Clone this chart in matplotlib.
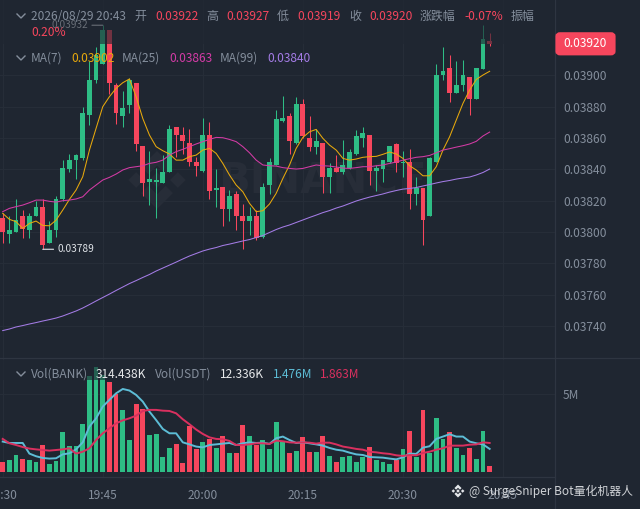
import matplotlib
matplotlib.use('Agg')
import matplotlib.pyplot as plt
import numpy as np
from matplotlib.patches import FancyBboxPatch, Polygon, Rectangle

plt.rcParams['font.family'] = ['Noto Sans CJK SC', 'DejaVu Sans']

# prices in units of 0.00001, one candle per minute from 19:30
opens = [3809, 3799, 3800, 3810, 3801, 3810, 3816, 3793, 3801, 3821, 3840, 3846, 3847, 3875, 3897,
         3907, 3929, 3894, 3874, 3881, 3895, 3855, 3832, 3832, 3831, 3838, 3867, 3862, 3857, 3845,
         3839, 3862, 3827, 3829, 3815, 3824, 3810, 3807, 3810, 3797, 3830, 3843, 3871, 3874, 3857,
         3882, 3860, 3854, 3857, 3835, 3841, 3838, 3841, 3850, 3860, 3862, 3839, 3840, 3845, 3856,
         3844, 3845, 3824, 3828, 3810, 3845, 3900, 3905, 3889, 3894, 3899, 3885, 3904, 3922]
highs = [3812, 3810, 3821, 3814, 3812, 3820, 3821, 3807, 3823, 3846, 3850, 3850, 3880, 3909, 3918,
         3932, 3929, 3895, 3890, 3898, 3895, 3855, 3852, 3841, 3849, 3868, 3867, 3867, 3866, 3848,
         3873, 3870, 3840, 3829, 3827, 3826, 3818, 3816, 3814, 3831, 3847, 3878, 3887, 3876, 3886,
         3885, 3874, 3866, 3857, 3844, 3849, 3859, 3853, 3865, 3867, 3862, 3843, 3846, 3855, 3857,
         3852, 3853, 3835, 3828, 3848, 3907, 3918, 3913, 3909, 3910, 3899, 3905, 3932, 3927]
lows = [3793, 3793, 3800, 3796, 3796, 3810, 3789, 3793, 3797, 3820, 3838, 3834, 3846, 3868, 3895,
        3907, 3888, 3869, 3867, 3876, 3852, 3823, 3817, 3809, 3831, 3838, 3848, 3850, 3842, 3836,
        3838, 3821, 3816, 3804, 3807, 3801, 3789, 3798, 3795, 3796, 3824, 3843, 3870, 3850, 3856,
        3860, 3852, 3850, 3825, 3825, 3838, 3837, 3840, 3849, 3854, 3830, 3826, 3832, 3844, 3838,
        3835, 3815, 3817, 3792, 3810, 3845, 3897, 3883, 3889, 3890, 3875, 3885, 3904, 3919]
closes = [3800, 3801, 3808, 3802, 3810, 3816, 3792, 3801, 3821, 3841, 3846, 3849, 3876, 3897, 3913,
          3929, 3895, 3876, 3879, 3897, 3856, 3831, 3834, 3833, 3838, 3866, 3862, 3858, 3845, 3842,
          3862, 3826, 3828, 3815, 3823, 3810, 3807, 3810, 3796, 3829, 3845, 3872, 3873, 3858, 3882,
          3861, 3854, 3858, 3835, 3841, 3838, 3843, 3851, 3861, 3863, 3839, 3841, 3846, 3855, 3844,
          3845, 3824, 3828, 3808, 3847, 3900, 3903, 3889, 3894, 3900, 3885, 3905, 3923, 3920]

ma7 = [3811.9, 3808.1, 3806.6, 3802.3, 3805.5, 3807.0, 3804.2, 3804.0, 3807.6, 3814.0, 3820.8, 3826.8,
       3835.3, 3852.3, 3866.2, 3880.0, 3886.4, 3891.7, 3895.3, 3897.7, 3886.4, 3872.5, 3861.9, 3854.5,
       3851.9, 3849.8, 3845.9, 3845.9, 3848.1, 3849.1, 3852.3, 3853.4, 3850.2, 3843.8, 3836.4, 3830.0,
       3825.7, 3818.3, 3813.0, 3813.6, 3817.9, 3824.7, 3834.2, 3842.8, 3853.4, 3860.4, 3864.0, 3865.5,
       3859.8, 3855.5, 3852.3, 3847.0, 3845.9, 3846.6, 3847.7, 3848.1, 3848.3, 3849.6, 3851.1, 3849.8,
       3847.0, 3842.3, 3839.6, 3835.9, 3835.9, 3841.7, 3852.3, 3860.8, 3871.5, 3882.1, 3890.6, 3897.4,
       3900.2, 3902.6]
ma25 = [3813.0, 3815.1, 3816.2, 3817.2, 3818.7, 3820.4, 3820.4, 3819.6, 3819.1, 3820.0, 3820.4, 3821.1,
        3822.5, 3826.8, 3830.0, 3833.2, 3834.9, 3837.0, 3839.6, 3841.1, 3841.7, 3842.3, 3843.8, 3844.5,
        3845.9, 3849.1, 3851.3, 3852.8, 3854.5, 3856.2, 3857.7, 3859.1, 3860.4, 3860.2, 3859.1, 3857.7,
        3854.5, 3850.6, 3845.9, 3842.8, 3842.3, 3842.1, 3841.1, 3840.6, 3840.2, 3840.6, 3841.7, 3842.8,
        3842.3, 3842.1, 3841.5, 3840.8, 3840.6, 3841.1, 3841.7, 3841.7, 3842.3, 3842.8, 3843.8, 3844.7,
        3845.9, 3846.8, 3847.7, 3848.1, 3848.9, 3850.6, 3852.3, 3853.2, 3854.2, 3855.1, 3856.2, 3857.9,
        3861.3, 3863.8]
ma99 = [3737.1, 3738.1, 3739.4, 3740.3, 3741.3, 3742.2, 3743.2, 3744.1, 3745.1, 3746.4, 3748.0, 3749.6,
        3751.5, 3753.7, 3756.0, 3758.2, 3760.4, 3762.7, 3764.9, 3767.1, 3769.0, 3771.0, 3772.9, 3775.1,
        3777.0, 3778.9, 3780.8, 3782.8, 3784.7, 3786.3, 3787.9, 3789.1, 3790.1, 3791.4, 3792.3, 3793.3,
        3794.3, 3795.2, 3796.5, 3797.8, 3799.7, 3801.6, 3803.2, 3804.5, 3806.1, 3807.7, 3809.3, 3810.8,
        3812.4, 3813.7, 3815.3, 3816.6, 3818.2, 3819.8, 3821.1, 3822.3, 3823.3, 3824.3, 3825.5, 3826.5,
        3827.4, 3827.8, 3828.4, 3829.4, 3830.3, 3831.3, 3832.2, 3832.9, 3833.8, 3834.5, 3835.1, 3836.4,
        3838.0, 3840.2]

# volume in millions
volume = [0.64, 0.81, 1.11, 0.85, 0.79, 0.66, 1.77, 0.51, 0.73, 2.56, 1.69, 1.71, 3.12, 6.20, 6.75,
          6.24, 5.77, 5.00, 4.00, 2.09, 4.36, 4.04, 2.37, 2.46, 0.98, 1.54, 1.82, 0.62, 2.97, 1.52,
          1.94, 2.14, 1.54, 2.33, 1.26, 1.26, 3.01, 2.33, 1.75, 2.05, 1.50, 3.25, 1.97, 1.22, 1.39,
          2.26, 1.30, 1.28, 2.35, 1.03, 0.68, 0.96, 1.05, 0.66, 0.96, 1.60, 0.81, 0.66, 0.53, 0.79,
          1.50, 2.63, 1.00, 4.00, 1.26, 3.48, 2.12, 2.61, 1.54, 1.11, 1.56, 0.85, 2.65, 0.38]
vol_ma_short = [1.97, 1.88, 1.88, 1.88, 1.20, 1.03, 0.92, 0.88, 0.90, 1.15, 1.22, 1.47, 1.92, 2.93, 3.46,
                4.21, 4.64, 5.06, 5.34, 5.24, 4.96, 4.53, 3.89, 3.35, 2.78, 2.50, 2.50, 1.92, 1.79, 1.65,
                1.60, 1.75, 1.79, 1.84, 1.88, 1.75, 1.86, 1.92, 1.88, 1.90, 1.82, 2.18, 2.29, 2.07, 1.88,
                1.92, 1.86, 1.79, 1.71, 1.56, 1.45, 1.39, 1.26, 1.15, 1.11, 0.98, 0.96, 0.94, 0.88, 0.83,
                0.96, 1.20, 1.18, 1.58, 1.67, 2.14, 2.29, 2.44, 2.29, 2.29, 1.97, 1.86, 1.79, 1.50]
vol_ma_long = [2.14, 1.86, 1.75, 1.62, 1.52, 1.47, 1.43, 1.39, 1.43, 1.47, 1.54, 1.20, 1.32, 1.54, 2.07,
               2.50, 2.82, 3.14, 3.33, 3.46, 3.63, 3.93, 4.00, 4.00, 3.95, 3.93, 3.78, 3.40, 3.08, 2.74,
               2.46, 2.24, 2.14, 2.12, 2.01, 1.75, 1.75, 1.79, 1.86, 1.86, 1.82, 2.03, 1.99, 1.92, 1.90,
               1.92, 1.90, 1.84, 1.90, 1.90, 1.79, 1.65, 1.58, 1.50, 1.45, 1.32, 1.28, 1.22, 1.18, 1.09,
               1.05, 1.11, 1.09, 1.24, 1.32, 1.45, 1.54, 1.71, 1.71, 1.71, 1.77, 1.79, 1.92, 1.88]

price_ticks = [3740, 3760, 3780, 3800, 3820, 3840, 3860, 3880, 3900]
time_ticks = [0, 15, 30, 45, 60, 75]
time_labels = ['19:30', '19:45', '20:00', '20:15', '20:30', '20:45']

BG = '#1f2631'
GRID = '#262d38'
BORDER = '#2e3541'
GREY = '#848e9c'
RED = '#f6465d'
GREEN = '#2ebd85'
W, H = 640, 509


def fx(px):
    return px / W


def fy(py):
    return 1 - py / H


def put(px, py, s, color=GREY, size=8.6, ha='left', z=3, **kw):
    fig.text(fx(px), fy(py), s, color=color, fontsize=size, ha=ha, va='center', zorder=z, **kw)


def chevron(py):
    fig.add_artist(plt.Line2D([fx(17), fx(21), fx(25)], [fy(py), fy(py + 4), fy(py)],
                              color=GREY, lw=1.0, zorder=3))


def logo(cx, cy, s, color, z):
    # binance mark: centre and side diamonds, chevrons above and below
    shapes = [
        [(0, -.27), (.27, 0), (0, .27), (-.27, 0)],
        [(-.72, -.27), (-.45, 0), (-.72, .27), (-.99, 0)],
        [(.72, -.27), (.99, 0), (.72, .27), (.45, 0)],
        [(0, -1), (.55, -.45), (.3, -.2), (0, -.5), (-.3, -.2), (-.55, -.45)],
        [(0, 1), (.55, .45), (.3, .2), (0, .5), (-.3, .2), (-.55, .45)],
    ]
    for shape in shapes:
        pts = [(fx(cx + a * s), fy(cy + b * s)) for a, b in shape]
        fig.add_artist(Polygon(pts, closed=True, fc=color, ec='none', transform=fig.transFigure, zorder=z))


fig = plt.figure(figsize=(W / 100, H / 100), dpi=100, facecolor=BG)
ax = fig.add_axes([0, fy(358), fx(555), 358 / H], zorder=1)
ax_vol = fig.add_axes([0, fy(477), fx(555), (477 - 359) / H], sharex=ax, zorder=1)

idx = np.arange(len(opens))
o, hi, lo, c = [np.array(a) / 1e5 for a in (opens, highs, lows, closes)]
colors = [GREEN if b >= a else RED for a, b in zip(opens, closes)]

# price pane
ax.vlines(idx, lo, hi, colors=colors, lw=0.75, zorder=3)
ax.bar(idx, np.maximum(np.abs(c - o), 1e-5), bottom=np.minimum(o, c), width=0.72, color=colors, zorder=3)
ax.plot(idx, np.array(ma7) / 1e5, color='#e8a90c', lw=0.75, zorder=4)
ax.plot(idx, np.array(ma25) / 1e5, color='#d43ba6', lw=0.75, zorder=4)
ax.plot(idx, np.array(ma99) / 1e5, color='#a47ce6', lw=0.75, zorder=4)

ax.annotate('0.03789', xy=(6, 0.03789), xytext=(15, 0), textcoords='offset pixels', color='#dfe3e8',
            fontsize=7.3, va='center', arrowprops=dict(arrowstyle='-', color='#dfe3e8', lw=0.8, shrinkA=1, shrinkB=0))
ax.annotate('0.03932', xy=(15, 0.03932), xytext=(-15, 0), textcoords='offset pixels', color='#dfe3e8',
            fontsize=7.3, va='center', ha='right', arrowprops=dict(arrowstyle='-', color='#dfe3e8', lw=0.8, shrinkA=1, shrinkB=0))

ax.set_xlim(-0.405, 82.8)
ax.set_ylim(0.037196, 0.039481)
ax.set_yticks(np.array(price_ticks) / 1e5)
ax.set_yticklabels(['%.5f' % (p / 1e5) for p in price_ticks])
ax.yaxis.tick_right()
ax.tick_params(axis='y', length=0, pad=5.8, labelcolor=GREY, labelsize=8.6)
ax.tick_params(axis='x', length=0, labelbottom=False)
ax.text(fx(322), fy(181), 'BINANCE', transform=fig.transFigure, color='#272d38', fontsize=30, fontweight='bold',
        ha='center', va='center', zorder=1, family='DejaVu Sans')

# volume pane
ax_vol.bar(idx, volume, width=0.72, color=colors, zorder=3)
ax_vol.plot(idx, vol_ma_short, color='#5dbdd6', lw=1.4, zorder=4)
ax_vol.plot(idx, vol_ma_long, color='#d9305f', lw=1.4, zorder=4)
ax_vol.set_ylim(-0.30, 7.26)
ax_vol.set_yticks([5])
ax_vol.set_yticklabels(['5M'])
ax_vol.yaxis.tick_right()
ax_vol.tick_params(axis='y', length=0, pad=5.8, labelcolor=GREY, labelsize=8.6)
ax_vol.set_xticks(time_ticks)
ax_vol.set_xticklabels(time_labels)
ax_vol.tick_params(axis='x', length=0, pad=8.5, labelcolor=GREY, labelsize=8.6)

for a in (ax, ax_vol):
    a.grid(True, color=GRID, lw=0.8, zorder=0)
    a.set_axisbelow(True)
    a.patch.set_alpha(0)
    for s in a.spines.values():
        s.set_visible(False)

logo(157, 180, 29, '#272d38', 0.5)

# pane separators
for line in ([[fx(555), fx(555)], [0, 1]], [[0, 1], [fy(358), fy(358)]], [[0, fx(555)], [fy(477), fy(477)]]):
    fig.add_artist(plt.Line2D(line[0], line[1], color=BORDER, lw=0.9, zorder=0.6))

# legend backdrops dim what lies under them
fig.add_artist(Rectangle((0, fy(44)), fx(555), 44 / H, fc=BG, ec='none', alpha=0.62,
                         transform=fig.transFigure, zorder=1.5))
fig.add_artist(Rectangle((0, fy(380)), fx(555), 20 / H, fc=BG, ec='none', alpha=0.62,
                         transform=fig.transFigure, zorder=1.5))

# last price tag
fig.add_artist(FancyBboxPatch((fx(557.5), fy(53.3)), fx(56), 19 / H, boxstyle='round,pad=0,rounding_size=0.004',
                              fc=RED, ec=RED, lw=3, transform=fig.transFigure, zorder=2, mutation_aspect=1))
put(585.5, 43.5, '0.03920', color='white', ha='center')

# legend rows
chevron(14)
put(31, 16.5, '2026/08/29 20:43')
put(134, 16.5, '开')
put(155, 16.5, '0.03922', RED)
put(206, 16.5, '高')
put(226, 16.5, '0.03927', RED)
put(277, 16.5, '低')
put(297, 16.5, '0.03919', RED)
put(349, 16.5, '收')
put(369, 16.5, '0.03920', RED)
put(420, 16.5, '涨跌幅')
put(464, 16.5, '-0.07%', RED)
put(511, 16.5, '振幅')
put(31, 32.5, '0.20%', RED)

chevron(56)
put(31, 58.5, 'MA(7)')
put(71, 58.5, '0.03902', '#e8a90c')
put(122, 58.5, 'MA(25)')
put(169, 58.5, '0.03863', '#d43ba6')
put(220, 58.5, 'MA(99)')
put(267, 58.5, '0.03840', '#a47ce6')

chevron(372)
put(31, 374, 'Vol(BANK)')
put(96, 374, '314.438K', '#e6e8ea')
put(155, 374, 'Vol(USDT)')
put(220, 374, '12.336K', '#e6e8ea')
put(273, 374, '1.476M', '#5dbdd6')
put(320, 374, '1.863M', '#d9305f')

# share watermark
logo(458, 491, 6.5, '#e4e6ea', 3)
put(469, 491, '@ SurgeSniper Bot量化机器人', '#cfd2d6', size=8.55)

fig.savefig('out.png', dpi=100, facecolor=BG)
